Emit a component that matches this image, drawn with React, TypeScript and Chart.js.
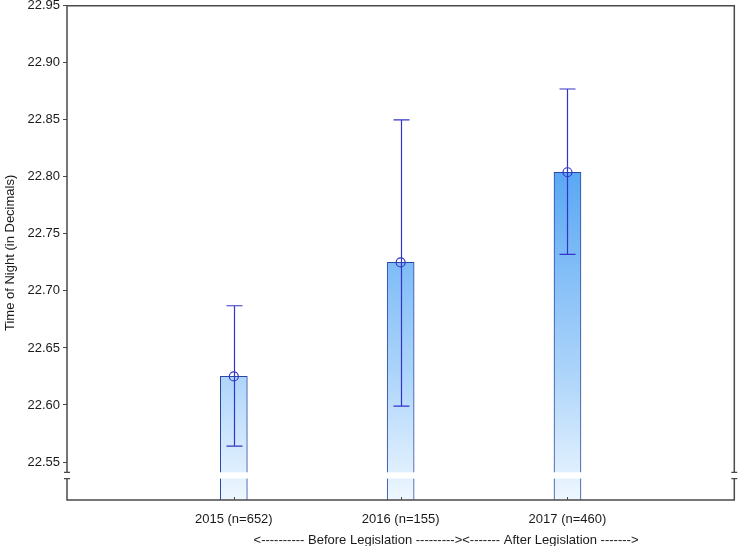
import { useEffect, useRef } from 'react';
import { Chart, registerables } from 'chart.js';

Chart.register(...registerables);

const categories = ['', '2015 (n=652)', '2016 (n=155)', '2017 (n=460)', ''];
const means: (number | null)[] = [null, 22.625, 22.725, 22.804, null];
const errLow: (number | null)[] = [null, 22.564, 22.599, 22.732, null];
const errHigh: (number | null)[] = [null, 22.687, 22.85, 22.877, null];
const yTicks = [22.55, 22.6, 22.65, 22.7, 22.75, 22.8, 22.85, 22.9, 22.95];
const yMin = 22.5167;
const yMax = 22.95;
const breakLow = 22.5355;
const breakHigh = 22.541;
const xTitle = '<---------- Before Legislation ---------><------- After Legislation ------->';
const yTitle = 'Time of Night (in Decimals)';

const FONT = '"Liberation Sans", Arial, sans-serif';
const TEXT = '#1a1a1a';
const ERR = '#3434c8';
const FRAME = '#4a4a4a';

const customPlugin = {
  id: 'customDecor',
  afterDatasetsDraw(chart: any) {
    const { ctx, scales } = chart;
    const x = scales.x;
    const y = scales.y;
    ctx.save();
    ctx.strokeStyle = ERR;
    ctx.lineWidth = 1.2;
    for (let i = 0; i < means.length; i++) {
      const lo = errLow[i];
      const hi = errHigh[i];
      if (lo == null || hi == null) continue;
      const px = Math.round(x.getPixelForValue(i)) + 0.5;
      const yl = y.getPixelForValue(lo);
      const yh = y.getPixelForValue(hi);
      ctx.beginPath();
      ctx.moveTo(px, yl);
      ctx.lineTo(px, yh);
      ctx.moveTo(px - 8, yl);
      ctx.lineTo(px + 8, yl);
      ctx.moveTo(px - 8, yh);
      ctx.lineTo(px + 8, yh);
      ctx.stroke();
    }
    ctx.restore();
  },
  afterDraw(chart: any) {
    const { ctx, chartArea: a, scales } = chart;
    const x = scales.x;
    const y = scales.y;
    ctx.save();
    ctx.strokeStyle = FRAME;
    ctx.lineWidth = 1.5;
    ctx.beginPath();
    ctx.moveTo(a.left, a.top);
    ctx.lineTo(a.right, a.top);
    ctx.lineTo(a.right, a.bottom);
    ctx.lineTo(a.left, a.bottom);
    ctx.closePath();
    ctx.stroke();
    ctx.lineWidth = 1;
    ctx.beginPath();
    for (let i = 1; i < categories.length - 1; i++) {
      const px = Math.round(x.getPixelForValue(i)) + 0.5;
      ctx.moveTo(px, a.bottom);
      ctx.lineTo(px, a.bottom - 3);
    }
    ctx.stroke();
    const yb1 = y.getPixelForValue(breakHigh);
    const yb2 = y.getPixelForValue(breakLow);
    ctx.fillStyle = '#ffffff';
    ctx.fillRect(a.left - 2, yb1, a.right - a.left + 4, yb2 - yb1);
    ctx.strokeStyle = FRAME;
    ctx.lineWidth = 1.2;
    ctx.beginPath();
    for (const ax of [a.left, a.right]) {
      ctx.moveTo(ax - 3, yb1);
      ctx.lineTo(ax + 3, yb1);
      ctx.moveTo(ax - 3, yb2);
      ctx.lineTo(ax + 3, yb2);
    }
    ctx.stroke();
    ctx.fillStyle = TEXT;
    ctx.font = '13px ' + FONT;
    ctx.textAlign = 'center';
    ctx.textBaseline = 'middle';
    ctx.fillText(xTitle, a.left + (a.right - a.left) * 0.568, a.bottom + 40);
    ctx.restore();
  },
};

export default function App() {
  const ref = useRef<HTMLCanvasElement>(null);

  useEffect(() => {
    document.body.style.margin = '0';
    if (!ref.current) return;
    Chart.defaults.font.family = FONT;
    Chart.defaults.font.size = 13;
    Chart.defaults.color = TEXT;
    const chart = new Chart(ref.current, {
      type: 'bar',
      data: {
        labels: categories,
        datasets: [
          {
            type: 'bar',
            data: means as any,
            backgroundColor: (c: any) => {
              const a = c.chart.chartArea;
              if (!a) return '#7ab8f5';
              const g = c.chart.ctx.createLinearGradient(0, a.top, 0, a.bottom);
              g.addColorStop(0, '#3f94ee');
              g.addColorStop(0.34, '#5aa8f4');
              g.addColorStop(0.75, '#aed5fa');
              g.addColorStop(1, '#eef7ff');
              return g;
            },
            borderColor: '#2a48a2',
            borderWidth: 1,
            barThickness: 27,
            order: 2,
          } as any,
          {
            type: 'line',
            data: means as any,
            showLine: false,
            pointRadius: 4.5,
            pointHoverRadius: 4.5,
            pointBorderColor: ERR,
            pointBackgroundColor: 'rgba(0,0,0,0)',
            pointBorderWidth: 1.2,
            order: 1,
          } as any,
        ],
      },
      options: {
        animation: false,
        responsive: true,
        maintainAspectRatio: false,
        layout: { padding: { top: 5, right: 4, left: 0, bottom: 0 } },
        plugins: { legend: { display: false }, tooltip: { enabled: false } },
        scales: {
          x: {
            type: 'category',
            offset: false,
            grid: { display: false },
            border: { display: false },
            ticks: { autoSkip: false, maxRotation: 0, padding: 4, color: TEXT, font: { size: 13 } },
            afterFit: (s: any) => {
              s.height = 46;
              s.paddingLeft = 0;
              s.paddingRight = 0;
            },
          },
          y: {
            type: 'linear',
            min: yMin,
            max: yMax,
            afterBuildTicks: (s: any) => {
              s.ticks = yTicks.map((v) => ({ value: v }));
            },
            ticks: {
              callback: (v: any) => Number(v).toFixed(2),
              padding: 3,
              color: TEXT,
              font: { size: 13 },
            },
            grid: { drawOnChartArea: false, drawTicks: true, tickLength: 4, color: FRAME },
            border: { display: false },
            title: {
              display: true,
              text: yTitle,
              color: TEXT,
              font: { size: 13 },
              padding: { top: 3, bottom: 0 },
            },
            afterFit: (s: any) => {
              s.width = 67;
              s.paddingTop = 0;
              s.paddingBottom = 0;
            },
          },
        },
      },
      plugins: [customPlugin],
    });
    return () => chart.destroy();
  }, []);

  return (
    <div style={{ width: 740, height: 546, position: 'relative' }}>
      <canvas ref={ref} />
    </div>
  );
}
